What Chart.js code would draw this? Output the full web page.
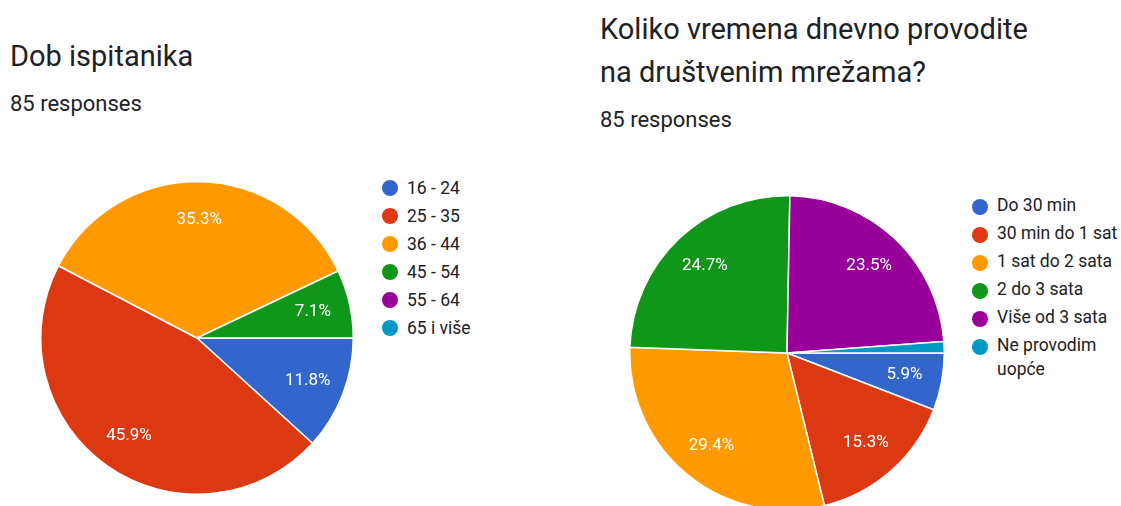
<!DOCTYPE html>
<html>
<head>
<meta charset="utf-8">
<script src="https://cdn.jsdelivr.net/npm/chart.js@4"></script>
<style>
  html, body { margin: 0; padding: 0; background: #fff; }
  body { width: 1121px; height: 506px; overflow: hidden; position: relative; font-family: Roboto, sans-serif; color: #202124; }
  .title { position: absolute; font-size: 29px; line-height: 43px; white-space: nowrap; }
  .sub { position: absolute; font-size: 22px; white-space: nowrap; }
  canvas { position: absolute; }
  .legend { position: absolute; font-size: 17.5px; line-height: 28px; }
  .legend div { position: relative; padding-left: 25px; }
  .legend span.dot { position: absolute; left: 0; top: 6px; width: 16px; height: 16px; border-radius: 50%; }
</style>
</head>
<body>
<div class="title" style="left:10px; top:35px;">Dob ispitanika</div>
<div class="sub" style="left:10px; top:91px;">85 responses</div>
<canvas id="ageChart" width="314" height="314" style="left:40px; top:181px;"></canvas>
<div class="legend" id="ageLegend" style="left:382px; top:174px;"></div>

<div class="title" style="left:600px; top:8px;">Koliko vremena dnevno provodite<br>na društvenim mrežama?</div>
<div class="sub" style="left:600px; top:107px;">85 responses</div>
<canvas id="timeChart" width="316" height="316" style="left:629px; top:195px;"></canvas>
<div class="legend" id="timeLegend" style="left:972px; top:193px; width:150px; line-height:24px;"></div>

<script>
// Google Forms palette
const colors = ['#3366cc', '#dc3912', '#ff9900', '#109618', '#990099', '#0099c6'];

// Dob ispitanika (counts of 85)
const ageLabels = ['16 - 24', '25 - 35', '36 - 44', '45 - 54', '55 - 64', '65 i više'];
const ageCounts = [10, 39, 30, 6, 0, 0];

// Koliko vremena dnevno... (counts of 85)
const timeLabels = ['Do 30 min', '30 min do 1 sat', '1 sat do 2 sata', '2 do 3 sata', 'Više od 3 sata', 'Ne provodim uopće'];
const timeCounts = [5, 13, 25, 21, 20, 1];

// draws the percentage inside each slice
const sliceLabels = {
    id: 'sliceLabels',
    afterDatasetsDraw(chart) {
        const ctx = chart.ctx;
        const data = chart.data.datasets[0].data;
        const total = data.reduce((a, b) => a + b, 0);
        chart.getDatasetMeta(0).data.forEach((arc, i) => {
            const pct = data[i] / total * 100;
            if (pct < 5) return; // too small to label
            const mid = (arc.startAngle + arc.endAngle) / 2;
            const r = arc.outerRadius * 0.76;
            ctx.save();
            ctx.fillStyle = '#ffffff';
            ctx.font = '17px Roboto, sans-serif';
            ctx.textAlign = 'center';
            ctx.textBaseline = 'middle';
            ctx.fillText(pct.toFixed(1) + '%', arc.x + Math.cos(mid) * r, arc.y + Math.sin(mid) * r);
            ctx.restore();
        });
    }
};

function makePie(id, labels, values) {
    const ctx = document.getElementById(id).getContext('2d');
    return new Chart(ctx, {
        type: 'pie',
        data: {
            labels: labels,
            datasets: [{
                data: values,
                backgroundColor: colors,
                borderColor: '#ffffff',
                borderWidth: 1.5,
            }],
        },
        options: {
            responsive: false,
            animation: false,
            rotation: 90, // start at 3 o'clock like Google Forms
            layout: { padding: 0 },
            plugins: {
                legend: { display: false },
                tooltip: { enabled: false },
            },
        },
        plugins: [sliceLabels],
    });
}

function makeLegend(id, labels) {
    const el = document.getElementById(id);
    labels.forEach((label, i) => {
        const row = document.createElement('div');
        const dot = document.createElement('span');
        dot.className = 'dot';
        dot.style.background = colors[i];
        row.appendChild(dot);
        row.appendChild(document.createTextNode(label));
        if (id === 'timeLegend') row.style.marginBottom = '4px';
        el.appendChild(row);
    });
}

makePie('ageChart', ageLabels, ageCounts);
makePie('timeChart', timeLabels, timeCounts);
makeLegend('ageLegend', ageLabels);
makeLegend('timeLegend', timeLabels);
</script>
</body>
</html>
